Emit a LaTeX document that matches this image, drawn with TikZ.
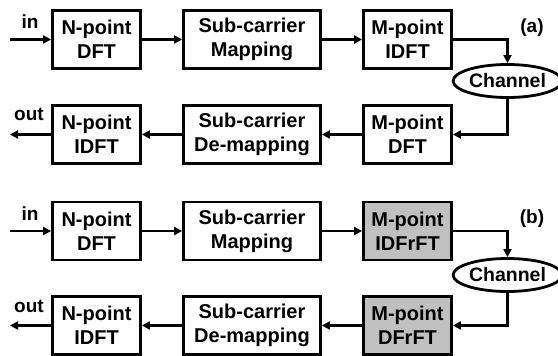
\documentclass[tikz,border=0pt]{standalone}
\usepackage{fontspec}
\setmainfont{Liberation Sans}
\usetikzlibrary{arrows.meta,shapes.geometric}
\definecolor{boxgray}{RGB}{192,192,192}
\begin{document}
\begin{tikzpicture}[x=1pt,y=-1pt,
  blk/.style={draw,line width=2.8pt,inner sep=0pt,minimum height=58pt,align=center,font=\fontsize{20}{24}\selectfont\bfseries},
  nbox/.style={blk,minimum width=88pt},
  sbox/.style={blk,minimum width=137pt},
  gbox/.style={nbox,fill=boxgray},
  chan/.style={draw,ellipse,line width=2.8pt,inner sep=0pt,minimum width=96pt,minimum height=33pt,font=\fontsize{19.5}{22}\selectfont\bfseries},
  lbl/.style={font=\fontsize{19}{22}\selectfont\bfseries,inner sep=0pt},
  conn/.style={line width=2.8pt,-{Triangle[length=8pt,width=8pt]}}]
\useasboundingbox (0,0) rectangle (558,356);
% (a)
\node[nbox] (a1) at (96.5,39.5) {N-point\\DFT};
\node[sbox] (a2) at (252,39.5) {Sub-carrier\\Mapping};
\node[nbox] (a3) at (407.5,39.5) {M-point\\IDFT};
\node[nbox] (a4) at (407.5,134.5) {M-point\\DFT};
\node[sbox] (a5) at (252,134.5) {Sub-carrier\\De-mapping};
\node[nbox] (a6) at (96.5,134.5) {N-point\\IDFT};
\node[chan] (ac) at (507.5,81) {Channel};
\coordinate (ain) at (10,39.5);
\coordinate (aout) at (10,134.5);
\node[lbl] (ainl) at (30,22) {in};
\node[lbl] (aoutl) at (29,114) {out};
\node[lbl] (alab) at (532,28) {(a)};
\draw[conn] (ain) -- (a1);
\draw[conn] (a1) -- (a2);
\draw[conn] (a2) -- (a3);
\draw[conn] (a3.east) -| (ac.north);
\draw[conn] (ac.south) |- (a4.east);
\draw[conn] (a4) -- (a5);
\draw[conn] (a5) -- (a6);
\draw[conn] (a6) -- (aout);
% (b)
\node[nbox] (b1) at (96.5,231) {N-point\\DFT};
\node[sbox] (b2) at (252,231) {Sub-carrier\\Mapping};
\node[gbox] (b3) at (407.5,231) {M-point\\IDFrFT};
\node[gbox] (b4) at (407.5,325.5) {M-point\\DFrFT};
\node[sbox] (b5) at (252,325.5) {Sub-carrier\\De-mapping};
\node[nbox] (b6) at (96.5,325.5) {N-point\\IDFT};
\node[chan] (bc) at (507.5,275) {Channel};
\coordinate (bin) at (10,231);
\coordinate (bout) at (10,325.5);
\node[lbl] (binl) at (30,214) {in};
\node[lbl] (boutl) at (29,306) {out};
\node[lbl] (blab) at (532,219) {(b)};
\draw[conn] (bin) -- (b1);
\draw[conn] (b1) -- (b2);
\draw[conn] (b2) -- (b3);
\draw[conn] (b3.east) -| (bc.north);
\draw[conn] (bc.south) |- (b4.east);
\draw[conn] (b4) -- (b5);
\draw[conn] (b5) -- (b6);
\draw[conn] (b6) -- (bout);
\end{tikzpicture}
\end{document}
